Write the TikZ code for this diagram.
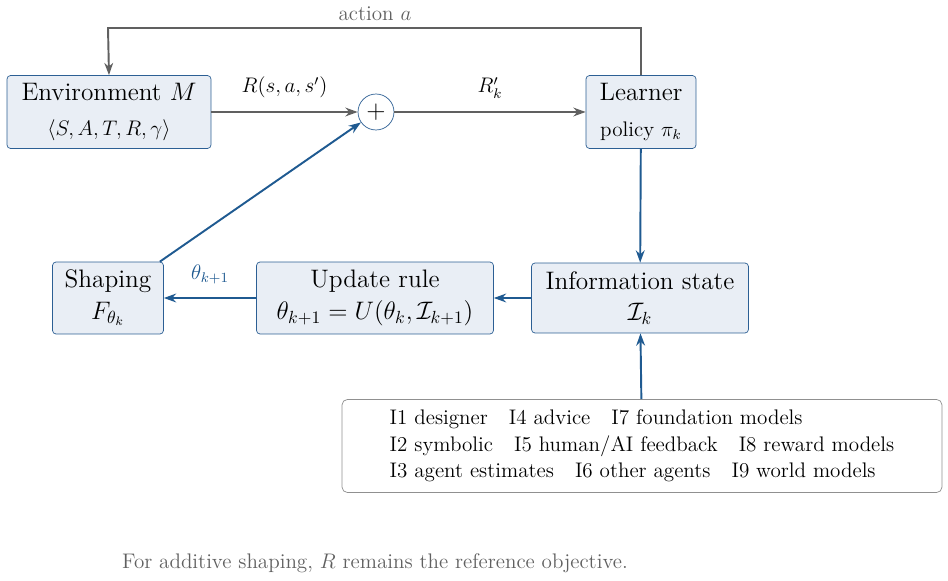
\documentclass[tikz,border=0pt]{standalone}
\usetikzlibrary{arrows.meta}
\definecolor{bx}{HTML}{E9EEF5}
\definecolor{bd}{HTML}{2C5F94}
\definecolor{ar}{HTML}{1F5A91}
\definecolor{gr}{HTML}{606060}
\begin{document}
\begin{tikzpicture}[x=0.02cm,y=-0.02cm,
 box/.style={draw=bd,fill=bx,rounded corners=2pt,align=center,inner sep=0pt,font=\Large},
 barr/.style={-{Stealth[length=7pt,width=5pt]},ar,line width=1.1pt},
 garr/.style={-{Stealth[length=7pt,width=5pt]},gr,line width=1.1pt},
 lbl/.style={font=\large}]
\useasboundingbox (0,0) rectangle (948,581);
\node[box,minimum width=204\pgflinewidth*0+4.08cm,minimum height=1.46cm] (env) at (109,112) {Environment $M$\\[2pt]{\large$\langle S,A,T,R,\gamma\rangle$}};
\node[draw=bd,fill=white,circle,minimum size=0.72cm,inner sep=0pt,font=\Large] (plus) at (376,112) {$+$};
\node[box,minimum width=2.2cm,minimum height=1.46cm] (lrn) at (641,112) {Learner\\[2pt]{\large policy $\pi_k$}};
\node[box,minimum width=4.34cm,minimum height=1.4cm] (info) at (640,298) {Information state\\$\mathcal{I}_k$};
\node[box,minimum width=4.74cm,minimum height=1.44cm] (upd) at (375,298) {Update rule\\$\theta_{k+1}=U(\theta_k,\mathcal{I}_{k+1})$};
\node[box,minimum width=2.22cm,minimum height=1.44cm] (shp) at (108,298) {Shaping\\$F_{\theta_k}$};
\node[draw=gr!70,fill=white,rounded corners=3pt,align=left,font=\large,minimum width=12cm,minimum height=1.86cm,inner sep=6pt] (src) at (642,446) {I1 designer\quad I4 advice\quad I7 foundation models\\[1pt] I2 symbolic\quad I5 human/AI feedback\quad I8 reward models\\[1pt] I3 agent estimates\quad I6 other agents\quad I9 world models};
\coordinate (c1) at (641,28); \coordinate (c2) at (108,28);
\draw[garr] (lrn.north) -- (c1) -- (c2) -- (env.north);
\node[lbl,text=gr] (act) at (375,14) {action $a$};
\draw[garr] (env) -- node[lbl,text=black,above=4pt]{$R(s,a,s')$} (plus);
\draw[garr] (plus) -- node[lbl,text=black,above=4pt]{$R'_k$} (lrn);
\draw[barr] (lrn) -- (info);
\draw[barr] (src) -- (info);
\draw[barr] (info) -- (upd);
\draw[barr] (upd) -- node[lbl,above=4pt]{$\theta_{k+1}$} (shp);
\draw[barr] (shp.north east) ++(-4,0) -- (plus);
\node[lbl,text=gr] (ft) at (375,563) {For additive shaping, $R$ remains the reference objective.};
\end{tikzpicture}
\end{document}
